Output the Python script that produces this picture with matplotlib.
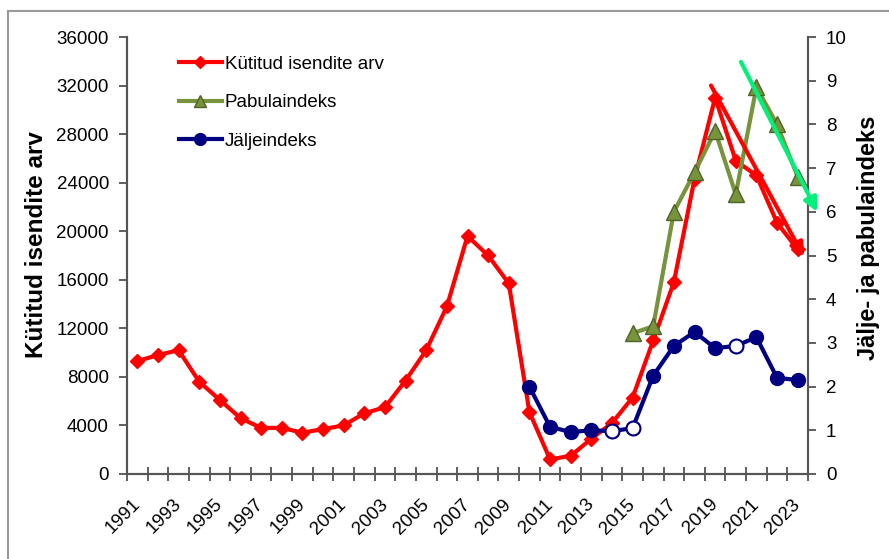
import numpy as np
import matplotlib.pyplot as plt
from matplotlib.patches import Rectangle

plt.rcParams['font.family'] = ['Liberation Sans', 'DejaVu Sans']

years = list(range(1991, 2024))

# kütitud isendite arv (left axis)
kutitud = [9300, 9800, 10200, 7600, 6100, 4600, 3800, 3800, 3400, 3700,
           4000, 5000, 5500, 7700, 10200, 13800, 19600, 18000, 15700, 5100,
           1200, 1500, 2900, 4200, 6300, 11000, 15800, 24300, 31000, 25800,
           24600, 20700, 18500]

# pabulaindeks (right axis), 2015-2023
pabula_years = list(range(2015, 2024))
pabula = [3.22, 3.38, 6.0, 6.9, 7.85, 6.4, 8.85, 8.0, 6.8]

# jäljeindeks (right axis), 2010-2023
jalje_years = list(range(2010, 2024))
jalje = [2.0, 1.08, 0.96, 1.0, 0.98, 1.05, 2.25, 2.93, 3.25, 2.88, 2.93, 3.13, 2.2, 2.15]
jalje_open = [2014, 2015, 2020]

fig = plt.figure(figsize=(8.89, 5.59), dpi=100)
ax = fig.add_axes([127 / 889, 1 - 474 / 559, 681 / 889, 437 / 559])
ax2 = ax.twinx()

x_all = np.arange(len(years))
pos = {y: i for i, y in enumerate(years)}

ax.plot(x_all, kutitud, color='#ff0000', lw=3, marker='D', ms=7.5,
        label='Kütitud isendite arv', zorder=3)

px = [pos[y] for y in pabula_years]
ax2.plot(px, pabula, color='#77933c', lw=3, marker='^', ms=11,
         mfc='#77933c', mec='#4f6228', label='Pabulaindeks', zorder=3)

jx = [pos[y] for y in jalje_years]
ax2.plot(jx, jalje, color='#000080', lw=3, marker='o', ms=10, label='Jäljeindeks', zorder=4)
ox = [pos[y] for y in jalje_open]
oy = [jalje[jalje_years.index(y)] for y in jalje_open]
ax2.plot(ox, oy, ls='none', marker='o', ms=10, mfc='white', mec='#000080', mew=1.5, zorder=5)

# trend arrows (on the right-axis scale so they sit above all lines)
ax2.annotate('', xy=(32.3, 4.97), xytext=(27.8, 8.89), annotation_clip=False,
             arrowprops=dict(arrowstyle='-|>', color='#ff0000', lw=3, mutation_scale=20,
                             shrinkA=0, shrinkB=0), zorder=6)
ax2.annotate('', xy=(32.95, 6.0), xytext=(29.25, 9.43), annotation_clip=False,
             arrowprops=dict(arrowstyle='-|>', color='#00f07a', lw=3, mutation_scale=20,
                             shrinkA=0, shrinkB=0), zorder=6)

ax.set_xlim(-0.5, len(years) - 0.5)
ax.set_ylim(0, 36000)
ax2.set_ylim(0, 10)
ax.set_yticks(np.arange(0, 36001, 4000))
ax2.set_yticks(np.arange(0, 11, 1))
ax.set_xticks(x_all[::2])
ax.set_xticklabels([str(y) for y in years[::2]], rotation=45, ha='right', va='center',
                   rotation_mode='anchor', fontsize=13.5)
ax.set_xticks(np.arange(-0.5, len(years)), minor=True)
ax.tick_params(axis='x', which='major', length=0, pad=20)
ax.tick_params(axis='x', which='minor', direction='inout', length=10, width=1.2, color='#444444')
ax.tick_params(axis='y', direction='out', length=6, width=1.2, color='#444444',
               labelsize=13.5, pad=7)
ax2.tick_params(axis='y', direction='out', length=6, width=1.2, color='#444444',
                labelsize=13.5, pad=7)

for a in (ax, ax2):
    a.spines['top'].set_visible(False)
    for s in ('left', 'right', 'bottom'):
        a.spines[s].set_color('#555555')
        a.spines[s].set_linewidth(1.5)

ax.set_ylabel('Kütitud isendite arv', fontsize=17.5, fontweight='bold')
ax.yaxis.set_label_coords(-0.116, 0.524)
ax2.set_ylabel('Jälje- ja pabulaindeks', fontsize=17, fontweight='bold', rotation=90)
ax2.yaxis.set_label_coords(1.072, 0.54)

h1, l1 = ax.get_legend_handles_labels()
h2, l2 = ax2.get_legend_handles_labels()
ax.legend(h1 + h2, l1 + l2, loc='upper left', bbox_to_anchor=(0.065, 0.975),
          frameon=False, fontsize=13.5, handlelength=2.3, labelspacing=1.15,
          handletextpad=0.15, markerscale=0.85, borderaxespad=0)

fig.patches.append(Rectangle((8 / 889, -0.1), 2, 1 - 11 / 559 + 0.1, transform=fig.transFigure,
                             fill=False, edgecolor='#999999', lw=1.5))

fig.savefig('out.png', dpi=100)
